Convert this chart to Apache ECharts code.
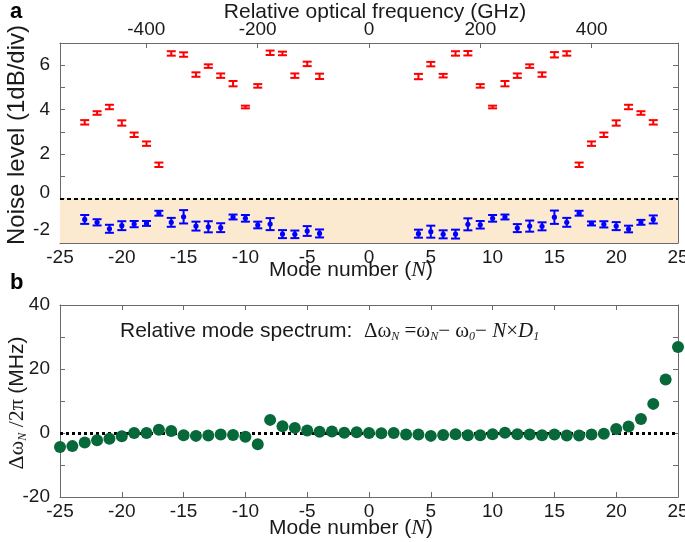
<!DOCTYPE html>
<html><head><meta charset="utf-8">
<script src="https://cdn.jsdelivr.net/npm/echarts@6/dist/echarts.min.js"></script>
<style>html,body{margin:0;padding:0;background:#fff}#c{width:685px;height:542px}</style>
</head><body><div id="c"></div>
<script>
// ---- data ----
const redModes = [-23,-22,-21,-20,-19,-18,-17,-16,-15,-14,-13,-12,-11,-10,-9,-8,-7,-6,-5,-4,
                  4,5,6,7,8,9,10,11,12,13,14,15,16,17,18,19,20,21,22,23];
const redValues = [3.43,3.85,4.12,3.40,2.87,2.47,1.52,6.53,6.48,5.58,5.96,5.53,5.17,4.12,5.07,6.56,6.53,5.53,6.06,5.50,
                   5.49,6.05,5.53,6.53,6.54,5.07,4.12,5.17,5.53,5.96,5.58,6.47,6.53,1.52,2.47,2.87,3.40,4.12,3.85,3.43];
const redErr = [0.1,0.08,0.1,0.12,0.1,0.1,0.1,0.1,0.1,0.1,0.08,0.1,0.12,0.06,0.08,0.1,0.08,0.1,0.1,0.12,
                0.12,0.1,0.08,0.1,0.1,0.08,0.06,0.12,0.1,0.08,0.1,0.12,0.1,0.1,0.1,0.1,0.12,0.1,0.08,0.1];
const blueModes = redModes;
const blueValues = [-0.94,-1.07,-1.36,-1.22,-1.15,-1.12,-0.66,-1.07,-0.82,-1.24,-1.27,-1.31,-0.83,-0.89,-1.19,-1.15,-1.60,-1.61,-1.46,-1.57,
                    -1.58,-1.49,-1.61,-1.60,-1.16,-1.18,-0.89,-0.83,-1.33,-1.24,-1.25,-0.84,-1.07,-0.66,-1.12,-1.16,-1.24,-1.37,-1.07,-0.94];
const blueErr = [0.2,0.14,0.18,0.2,0.14,0.11,0.11,0.2,0.3,0.2,0.25,0.2,0.11,0.15,0.15,0.27,0.18,0.17,0.22,0.18,
                 0.18,0.27,0.18,0.2,0.27,0.17,0.15,0.11,0.18,0.25,0.18,0.3,0.2,0.11,0.09,0.14,0.18,0.15,0.11,0.18];
const greenModes = [-25,-24,-23,-22,-21,-20,-19,-18,-17,-16,-15,-14,-13,-12,-11,-10,-9,-8,-7,-6,-5,-4,-3,-2,-1,
                    0,1,2,3,4,5,6,7,8,9,10,11,12,13,14,15,16,17,18,19,20,21,22,23,24,25];
const greenValues = [-4.4,-4.1,-3.0,-2.3,-1.8,-1.0,0,0,1.0,0.6,-0.7,-0.9,-0.8,-0.5,-0.6,-1.2,-3.5,4.1,2.1,1.6,0.8,0.4,0.5,0.1,0.2,
                     0,-0.1,0,-0.5,-0.5,-0.9,-0.6,-0.4,-0.7,-0.7,-0.4,0.1,-0.4,-0.5,-0.7,-0.5,-0.8,-0.8,-0.5,-0.2,1.25,2.0,4.4,9.1,16.7,26.9];
const freqTicks = [-400,-200,0,200,400];
const FSR = 22.2; // GHz per mode
const noiseTicks = [6,4,2,0,-2];
const dwTicks = [40,20,0,-20];

// ---- styling ----
const SANS = 'Liberation Sans, Arial, sans-serif';
const SERIF = 'Liberation Serif, Times New Roman, serif';
const AX = '#6a6a6a';
const TXT = '#1a1a1a';

function errItem(color, dot) {
  return function (params, api) {
    const x = api.value(0), y = api.value(1), e = api.value(2);
    const t = api.coord([x, y + e]), b = api.coord([x, y - e]), c = api.coord([x, y]);
    const w = 4.5;
    const st = { stroke: color, lineWidth: 2 };
    const ch = [
      { type: 'line', shape: { x1: t[0], y1: t[1], x2: b[0], y2: b[1] }, style: st },
      { type: 'line', shape: { x1: t[0] - w, y1: t[1], x2: t[0] + w, y2: t[1] }, style: st },
      { type: 'line', shape: { x1: b[0] - w, y1: b[1], x2: b[0] + w, y2: b[1] }, style: st }
    ];
    if (dot) ch.push({ type: 'circle', shape: { cx: c[0], cy: c[1], r: 2.6 }, style: { fill: color } });
    return { type: 'group', children: ch };
  };
}

const LINE = { show: true, onZero: false, lineStyle: { color: AX, width: 1 } };
const TICK = { show: true, inside: true, length: 5, lineStyle: { color: AX } };

function boxAxisX(gridIndex, pos, showLabel) {
  return {
    type: 'value', gridIndex, position: pos, min: -25, max: 25, interval: 5,
    axisLine: LINE, axisTick: TICK,
    axisLabel: { show: showLabel, fontFamily: SANS, fontSize: 19, color: TXT, margin: 5 },
    splitLine: { show: false }
  };
}

const chart = echarts.init(document.getElementById('c'), null, { renderer: 'canvas' });
const redData = redModes.map((m, i) => [m, redValues[i], redErr[i]]);
const blueData = blueModes.map((m, i) => [m, blueValues[i], blueErr[i]]);
const greenData = greenModes.map((m, i) => [m, greenValues[i]]);

const option = {
  animation: false,
  backgroundColor: '#fff',
  grid: [
    { left: 60, right: 7, top: 43, height: 200, outerBoundsMode: 'none', containLabel: false },
    { left: 60, right: 7, top: 305, height: 192, outerBoundsMode: 'none', containLabel: false }
  ],
  xAxis: [
    boxAxisX(0, 'bottom', true),
    {
      type: 'value', gridIndex: 0, position: 'top', min: -25 * FSR, max: 25 * FSR,
      axisLine: LINE,
      axisTick: { show: true, inside: true, length: 5, customValues: freqTicks, lineStyle: { color: AX } },
      axisLabel: { show: true, customValues: freqTicks, fontFamily: SANS, fontSize: 19, color: TXT, margin: 4 },
      splitLine: { show: false }
    },
    boxAxisX(1, 'bottom', true),
    boxAxisX(1, 'top', false)
  ],
  yAxis: [
    {
      type: 'value', gridIndex: 0, position: 'left', min: -2, max: 7, interval: 1,
      axisLine: LINE, axisTick: TICK,
      axisLabel: {
        fontFamily: SANS, fontSize: 19, color: TXT, margin: 10,
        customValues: noiseTicks,
        formatter: function (v) {
          if (v === 0) return '{z|0}';
          if (v === -2) return '{m|-2}';
          return String(v);
        },
        rich: {
          z: { fontFamily: SANS, fontSize: 19, color: TXT, padding: [0, 0, 12, 0] },
          m: { fontFamily: SANS, fontSize: 19, color: TXT, padding: [0, 0, 26, 0] }
        }
      },
      splitLine: { show: false }
    },
    {
      type: 'value', gridIndex: 0, position: 'right', min: -2, max: 7, interval: 1,
      axisLine: LINE, axisTick: TICK,
      axisLabel: { show: false }, splitLine: { show: false }
    },
    {
      type: 'value', gridIndex: 1, position: 'left', min: -20, max: 40, interval: 10,
      axisLine: LINE, axisTick: TICK,
      axisLabel: { fontFamily: SANS, fontSize: 19, color: TXT, margin: 10, customValues: dwTicks },
      splitLine: { show: false }
    },
    {
      type: 'value', gridIndex: 1, position: 'right', min: -20, max: 40, interval: 10,
      axisLine: LINE, axisTick: TICK,
      axisLabel: { show: false }, splitLine: { show: false }
    }
  ],
  series: [
    {
      type: 'custom', xAxisIndex: 0, yAxisIndex: 0, data: blueData,
      renderItem: errItem('#0000ff', true), z: 3,
      markArea: {
        silent: true,
        itemStyle: { color: '#fcead0' },
        data: [[{ coord: [-25, -2] }, { coord: [25, 0] }]]
      },
      markLine: {
        silent: true, symbol: 'none', label: { show: false },
        lineStyle: { color: '#000', width: 2, type: [4, 3] },
        data: [[{ coord: [-25, 0] }, { coord: [25, 0] }]]
      }
    },
    {
      type: 'custom', xAxisIndex: 0, yAxisIndex: 0, data: redData,
      renderItem: errItem('#ff0000', false), z: 3
    },
    {
      type: 'scatter', xAxisIndex: 2, yAxisIndex: 2, data: greenData,
      symbol: 'circle', symbolSize: 12, itemStyle: { color: '#07683a', opacity: 1 }, z: 3,
      markLine: {
        silent: true, symbol: 'none', label: { show: false }, z: 1,
        lineStyle: { color: '#000', width: 3, type: [3, 3] },
        data: [[{ coord: [-25, 0] }, { coord: [25, 0] }]]
      }
    }
  ],
  graphic: [
    { type: 'text', left: 10, top: 1, style: { text: 'a', font: 'bold 22px ' + SANS, fill: '#000' } },
    { type: 'text', left: 10, top: 272, style: { text: 'b', font: 'bold 22px ' + SANS, fill: '#000' } },
    { type: 'text', x: 375, y: 12, style: { text: 'Relative optical frequency (GHz)', font: '21px ' + SANS, fill: TXT, align: 'center', verticalAlign: 'middle' } },
    {
      type: 'text', x: 351, y: 270,
      style: {
        text: '{s|Mode number (}{i|N}{s|)}', align: 'center', verticalAlign: 'middle',
        rich: { s: { fontFamily: SANS, fontSize: 21, fill: TXT }, i: { fontFamily: SERIF, fontStyle: 'italic', fontSize: 22, fill: TXT } }
      }
    },
    {
      type: 'text', x: 351, y: 528,
      style: {
        text: '{s|Mode number (}{i|N}{s|)}', align: 'center', verticalAlign: 'middle',
        rich: { s: { fontFamily: SANS, fontSize: 21, fill: TXT }, i: { fontFamily: SERIF, fontStyle: 'italic', fontSize: 22, fill: TXT } }
      }
    },
    {
      type: 'text', x: 17, y: 135, rotation: Math.PI / 2,
      style: { text: 'Noise level (1dB/div)', font: '24px ' + SANS, fill: TXT, align: 'center', verticalAlign: 'middle' }
    },
    {
      type: 'text', x: 17, y: 403, rotation: Math.PI / 2,
      style: {
        text: '{m|Δω}{sub|N}{m| /2π }{s|(MHz)}', align: 'center', verticalAlign: 'middle',
        rich: {
          m: { fontFamily: SERIF, fontSize: 22, fill: TXT },
          sub: { fontFamily: SERIF, fontStyle: 'italic', fontSize: 12, fill: TXT, padding: [12, 0, 0, 0] },
          s: { fontFamily: SANS, fontSize: 21, fill: TXT }
        }
      }
    },
    {
      type: 'text', x: 120, y: 331,
      style: {
        text: '{s|Relative mode spectrum:  }{m|Δω}{sub|N}{m| =ω}{sub|N}{m|− ω}{sub|0}{m|− }{mi|N}{m|×}{mi|D}{sub|1}',
        align: 'left', verticalAlign: 'middle',
        rich: {
          s: { fontFamily: SANS, fontSize: 21, fill: TXT },
          m: { fontFamily: SERIF, fontSize: 21, fill: TXT },
          mi: { fontFamily: SERIF, fontStyle: 'italic', fontSize: 21, fill: TXT },
          sub: { fontFamily: SERIF, fontStyle: 'italic', fontSize: 12, fill: TXT, padding: [12, 0, 0, 0] }
        }
      }
    }
  ]
};
chart.setOption(option);
</script></body></html>
